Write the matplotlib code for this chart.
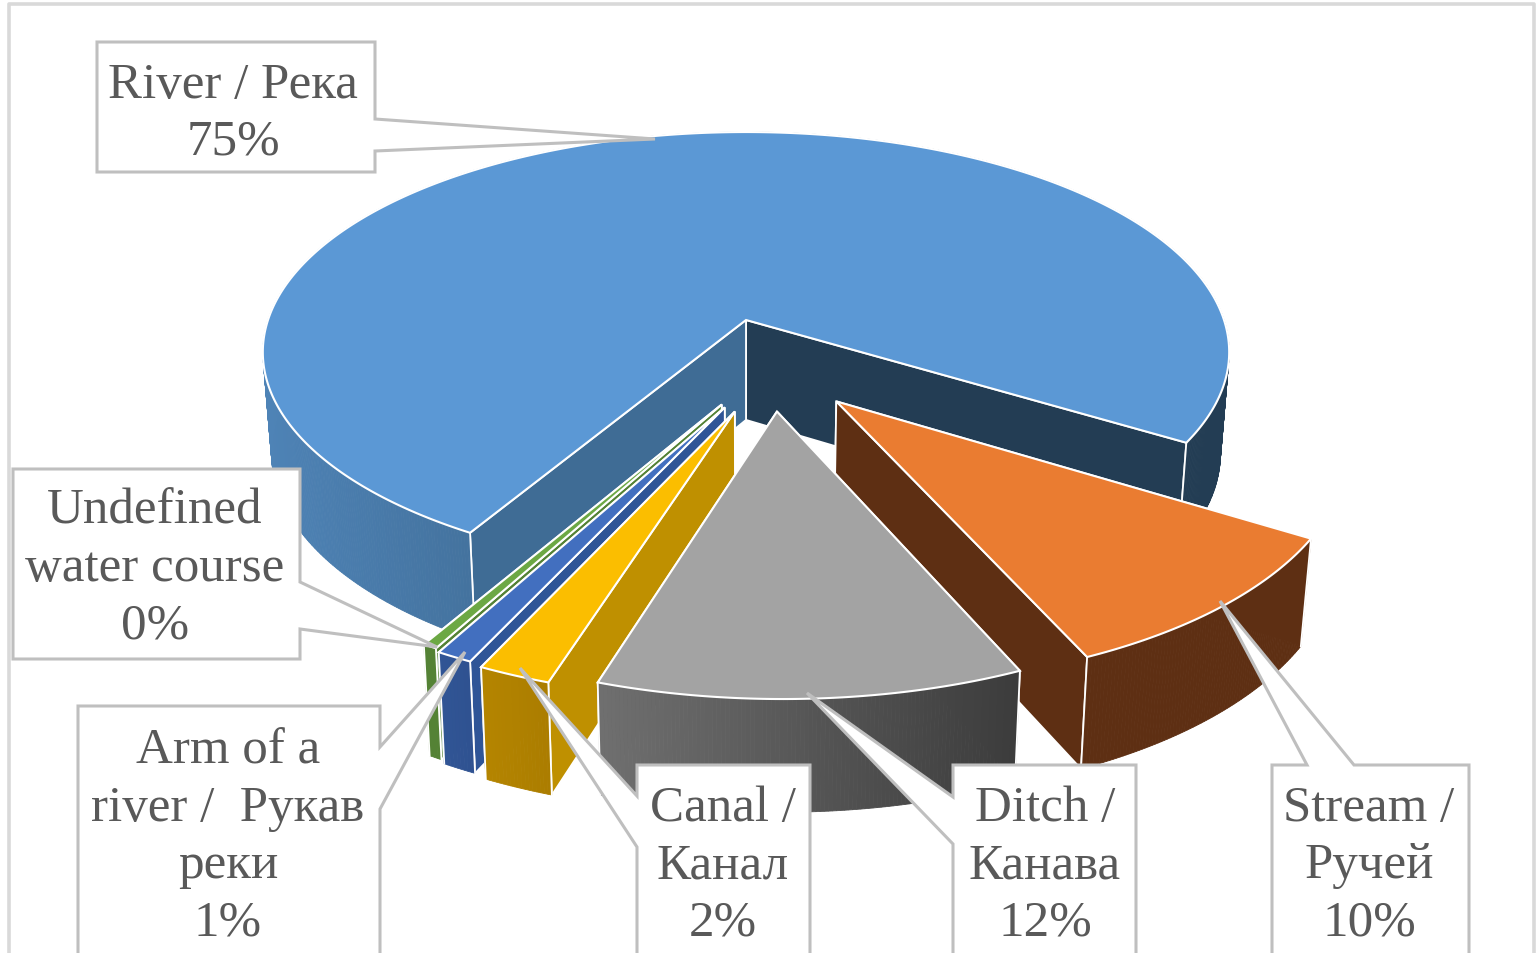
"""
Pizza 3D explodida: tipos de curso d'agua.
Desenhada com poligonos, projetando cada fatia num plano em perspectiva.
"""

import numpy as np
import matplotlib
matplotlib.use("Agg")
import matplotlib.pyplot as plt
from matplotlib.colors import to_rgb
from matplotlib.patches import Polygon

# dados
categorias = ["River", "Stream", "Ditch", "Canal", "Arm", "Undefined"]
valores = [75.4, 9.6, 11.6, 2.0, 1.0, 0.4]
rotulos = [
    "River / Река\n75%",
    "Stream /\nРучей\n10%",
    "Ditch /\nКанава\n12%",
    "Canal /\nКанал\n2%",
    "Arm of a\nriver /  Рукав\nреки\n1%",
    "Undefined\nwater course\n0%",
]

# estilo de cada fatia
cor_topo = ["#5B98D5", "#EA7C31", "#A3A3A3", "#FBBE00", "#426FBF", "#6CA844"]
cor_face_ini = ["#3F6C95", "#5E2F13", "#4A4A4A", "#BF9000", "#2F5597", "#548235"]
cor_face_fim = ["#233D54", "#5E2F13", "#4A4A4A", "#BF9000", "#2F5597", "#548235"]
cor_lado_esq = ["#4E83B6", "#5E2F13", "#707070", "#B58500", "#315595", "#548235"]
cor_lado_dir = ["#44739F", "#5E2F13", "#3C3C3C", "#AB7D00", "#2F5291", "#548235"]
cor_lado_fundo = "#233D54"  # parte direita da fatia River
explosao_u = [0.0, 0.179, 0.061, -0.022, -0.042, -0.048]
explosao_v = [0.0, -0.358, -0.400, -0.400, -0.383, -0.371]
ordem = [0, 1, 5, 4, 3, 2]

# projecao
ANG_INI = 210.3
CX, CY = 746, 321
R, H, P = 478, 215.4, 0.146
ESCALA_BASE = 0.982

# caixas: x0, x1, y0, y1
caixas = [
    (97, 375, 43, 173),
    (1272, 1469, 766, 1000),
    (953, 1136, 766, 1000),
    (637, 810, 766, 1000),
    (78, 380, 707, 1000),
    (13, 300, 470, 660),
]
# pontas: perna 1, ponta, perna 2 (na ordem do contorno)
pontas = [
    [(375, 120), (655, 140), (375, 152)],
    [(1354, 766), (1220, 602), (1307, 766)],
    [(953, 798), (807, 694), (953, 845)],
    [(637, 797), (520, 669), (637, 848)],
    [(380, 748), (465, 653), (380, 810)],
    [(300, 583), (437, 648), (300, 630)],
]
centro_texto = [(233, 114), (1369, 866), (1045, 866), (723, 866), (228, 837), (155, 569)]
COR_CAIXA = "#BFBFBF"
COR_TEXTO = "#595959"


def projeta(u, v):
    w = 1 + P * v
    return CX + R * u / w, CY - H * v / w


def base(x, y):
    return CX + (x - CX) * ESCALA_BASE, y + 101 + 0.035 * (y - 352)


def mistura(c1, c2, t):
    a, b = np.array(to_rgb(c1)), np.array(to_rgb(c2))
    return tuple(a + (b - a) * np.clip(t, 0, 1))


def i_z(i):
    return 2 + ordem.index(i)


def desenha_fatia(ax, i, a0, a1):
    du, dv = explosao_u[i], explosao_v[i]
    ang = np.radians(np.arange(a0, a1, 0.4).tolist() + [a1])
    xs, ys = projeta(du + np.sin(ang), dv + np.cos(ang))
    xa, ya = projeta(du, dv)
    bx, by = base(xs, ys)
    bxa, bya = base(xa, ya)
    z = i_z(i)

    # faces de corte: a escondida primeiro
    face_ini = Polygon([(xa, ya), (xs[0], ys[0]), (bx[0], by[0]), (bxa, bya)], closed=True,
                       fc=cor_face_ini[i], ec="white", lw=1.3, zorder=z)
    face_fim = Polygon([(xa, ya), (xs[-1], ys[-1]), (bx[-1], by[-1]), (bxa, bya)], closed=True,
                       fc=cor_face_fim[i], ec="white", lw=1.3, zorder=z)
    if a0 % 360 > 180:
        ax.add_patch(face_fim)
        ax.add_patch(face_ini)
    else:
        ax.add_patch(face_ini)
        ax.add_patch(face_fim)

    # lado externo, em tiras
    for k in range(len(xs) - 1):
        quad = [(xs[k], ys[k]), (xs[k + 1], ys[k + 1]), (bx[k + 1], by[k + 1]), (bx[k], by[k])]
        if i == 0:
            if xs[k] > CX:
                cor = cor_lado_fundo
            else:
                cor = mistura(cor_lado_esq[0], cor_lado_dir[0], (xs[k] - 262) / 206)
        else:
            t = (xs[k] - xs.min()) / max(xs.max() - xs.min(), 1)
            cor = mistura(cor_lado_esq[i], cor_lado_dir[i], t)
        ax.add_patch(Polygon(quad, closed=True, fc=cor, ec=cor, lw=0.6, zorder=z))

    # arestas verticais
    ax.plot([xs[0], bx[0]], [ys[0], by[0]], color="white", lw=1.3, zorder=z)
    ax.plot([xs[-1], bx[-1]], [ys[-1], by[-1]], color="white", lw=1.3, zorder=z)

    # topo
    topo = [(xa, ya)] + list(zip(xs, ys))
    ax.add_patch(Polygon(topo, closed=True, fc=cor_topo[i], ec="white", lw=1.5, zorder=z))


def desenha_caixa(ax, i):
    x0, x1, y0, y1 = caixas[i]
    p1, ponta, p2 = pontas[i]
    if p1[1] == y0:          # perna saindo do lado de cima
        cont = [(x0, y0), p2, ponta, p1, (x1, y0), (x1, y1), (x0, y1)]
    elif p1[0] == x1:        # lado direito
        cont = [(x0, y0), (x1, y0), p1, ponta, p2, (x1, y1), (x0, y1)]
    else:                    # lado esquerdo
        cont = [(x0, y0), (x1, y0), (x1, y1), (x0, y1), p2, ponta, p1]
    ax.add_patch(Polygon(cont, closed=True, fc="white", ec=COR_CAIXA, lw=2.2, joinstyle="miter", zorder=10))
    cx, cy = centro_texto[i]
    ax.text(cx, cy, rotulos[i], family=["Liberation Serif"], fontsize=36.7, color=COR_TEXTO,
            ha="center", va="center", linespacing=1.305, multialignment="center", zorder=11)


def main():
    fig = plt.figure(figsize=(15.39, 9.54), dpi=100)
    ax = fig.add_axes([0, 0, 1, 1])
    ax.set_xlim(0, 1539)
    ax.set_ylim(954, 0)
    ax.axis("off")

    # moldura do grafico
    ax.plot([9, 9, 1534, 1534], [954, 5, 5, 954], color="#D9D9D9", lw=2.6, zorder=1)

    total = sum(valores)
    limites = ANG_INI + np.cumsum([0] + valores) * 360 / total
    for i in ordem:
        desenha_fatia(ax, i, limites[i], limites[i + 1])

    for i in range(len(categorias)):
        desenha_caixa(ax, i)

    fig.savefig("out.png", dpi=100)
    plt.close(fig)


if __name__ == "__main__":
    main()
